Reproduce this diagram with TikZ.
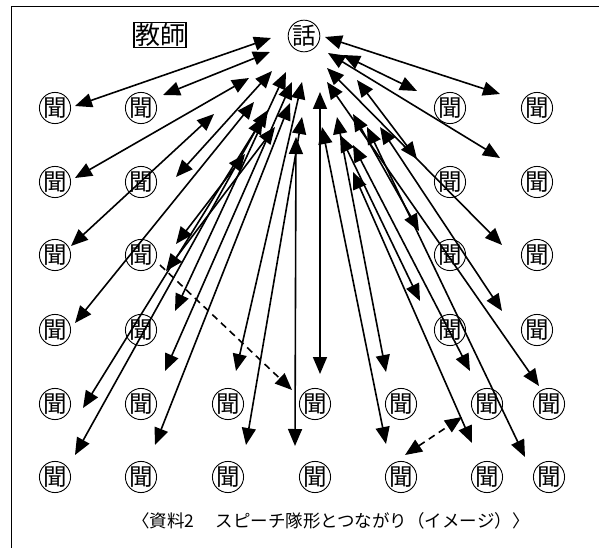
\documentclass[tikz,border=0pt]{standalone}
\usepackage{fontspec}
\newfontfamily\jp{Noto Sans CJK JP}
\usetikzlibrary{arrows.meta}
\begin{document}
\begin{tikzpicture}[x=1pt,y=-1pt,
  kiku/.style={circle, draw, line width=0.9pt, minimum size=31pt, inner sep=0pt, font=\jp\fontsize{23.5}{23.5}\selectfont},
  dbl/.style={line width=1.6pt, {Triangle[length=17pt,width=14pt]}-{Triangle[length=17pt,width=14pt]}},
  sgl/.style={line width=1.6pt, -{Triangle[length=17pt,width=14pt]}},
  dsh/.style={dash pattern=on 7pt off 5pt}]
\useasboundingbox (0,0) rectangle (599,548);
\draw[line width=1pt] (11,548) -- (11,7) -- (599,7);
% teacher and speaker
\node[draw, line width=1.6pt, inner sep=1pt, font=\jp\fontsize{25}{25}\selectfont] (kyoshi) at (160,35) {教師};
\node[kiku] (hanashi) at (304,36) {話};
% listeners rows 1-4
\foreach \r/\yy in {1/108,2/182,3/255,4/330}{
  \node[kiku] (La\r) at (55,\yy) {聞};
  \node[kiku] (Lb\r) at (141,\yy) {聞};
  \node[kiku] (Ra\r) at (450,\yy) {聞};
  \node[kiku] (Rb\r) at (537,\yy) {聞};
}
% listeners rows 5-6
\foreach \r/\yy in {5/404,6/477}{
  \foreach \c/\xx in {1/55,2/141,3/228,4/315,5/401,6/487,7/549}{
    \node[kiku] (K\r\c) at (\xx,\yy) {聞};
  }
}
% arrows
\foreach \nm/\tx/\ty/\bx/\by in {
  a/271/38/75/106, b/270/52/163/95, c/249/78/75/178, d/272/71/176/177,
  e/214/114/71/246, f/245/154/176/244, g/275/127/166/271, h/286/72/175/311,
  i/254/102/75/323, j/268/110/83/408, k/263/117/75/455, l/292/82/165/371,
  m/290/103/155/445, n/302/82/236/371, o/302/117/246/445, p/296/137/295/446,
  q/320/92/320/374, r/325/37/500/94, s/343/55/417/91, t/328/53/500/158,
  u/357/80/417/159, v/327/68/502/245, w/353/114/419/231, x/380/127/502/311,
  y/340/135/420/301, z/337/117/386/372, aa/353/145/470/371, ab/327/82/539/386,
  ac/322/127/386/444, ad/353/172/472/443, ae/367/127/525/457}{
  \coordinate (T\nm) at (\tx,\ty);
  \coordinate (B\nm) at (\bx,\by);
  \draw[dbl] (T\nm) -- (B\nm);
}
% dashed connections
\coordinate (d1s) at (160,265);
\coordinate (d1e) at (292,390);
\draw[sgl, dsh] (d1s) -- (d1e);
\coordinate (d2s) at (405,455);
\coordinate (d2e) at (462,417);
\draw[dbl, dsh] (d2s) -- (d2e);
% caption
\node[font=\jp\fontsize{17.5}{17.5}\selectfont] (cap) at (331,521) {〈資料2\hspace{1.2em}スピーチ隊形とつながり（イメージ）〉};
\end{tikzpicture}
\end{document}
